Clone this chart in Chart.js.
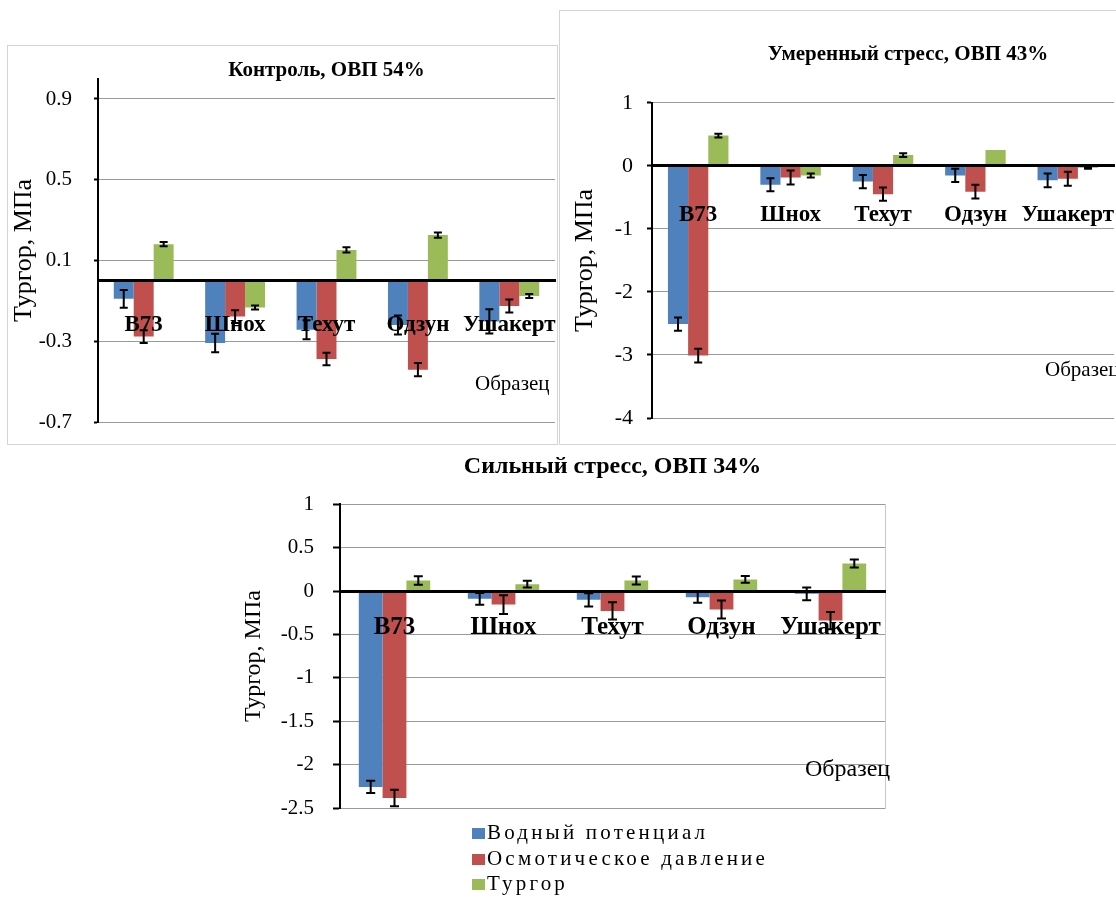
<!DOCTYPE html>
<html>
<head>
<meta charset="utf-8">
<script src="https://cdn.jsdelivr.net/npm/chart.js@4.4.1/dist/chart.umd.min.js"></script>
<style>
  body { margin: 0; overflow: hidden; background: #fff; }
  #page { position: relative; width: 1116px; height: 897px; overflow: hidden; background: #fff; }
  .frame { position: absolute; border: 1px solid #d4d4d4; box-sizing: border-box; }
  canvas { position: absolute; }
  #legend { position: absolute; left: 472px; top: 820px; font: 21px 'Liberation Serif', serif;
            letter-spacing: 3.2px; line-height: 25.5px; color: #000; white-space: nowrap; }
  #legend .box { display: inline-block; width: 13px; height: 11px; margin-right: 2px; }
</style>
</head>
<body>
<div id="page">
  <div class="frame" style="left:7px;top:45px;width:551px;height:400px"></div>
  <div class="frame" style="left:559px;top:10px;width:720px;height:435px"></div>
  <canvas id="chart1" width="548" height="398" style="left:8px;top:46px"></canvas>
  <canvas id="chart2" width="696" height="433" style="left:560px;top:11px"></canvas>
  <canvas id="chart3" width="680" height="380" style="left:230px;top:445px"></canvas>
  <div id="legend"></div>
</div>
<script>
// categories and series
const categories = ['B73', 'Шнох', 'Техут', 'Одзун', 'Ушакерт'];
const seriesNames = ['Водный потенциал', 'Осмотическое давление', 'Тургор'];
const seriesColors = ['#4F81BD', '#C0504D', '#9BBB59'];
const axisTitle = 'Тургор, МПа';
const sampleNote = 'Образец';

// Контроль, ОВП 54%
const water1 = [-0.09, -0.309, -0.243, -0.22, -0.202];
const osmotic1 = [-0.277, -0.178, -0.388, -0.441, -0.125];
const turgor1 = [0.181, -0.133, 0.152, 0.226, -0.076];
const waterErr1 = [0.044, 0.046, 0.047, 0.047, 0.06];
const osmoticErr1 = [0.032, 0.031, 0.031, 0.033, 0.032];
const turgorErr1 = [0.011, 0.01, 0.013, 0.013, 0.01];
const yTicks1 = [-0.7, -0.3, 0.1, 0.5, 0.9];

// Умеренный стресс, ОВП 43%
const water2 = [-2.51, -0.30, -0.25, -0.153, -0.23];
const osmotic2 = [-3.01, -0.185, -0.45, -0.41, -0.205];
const turgor2 = [0.48, -0.153, 0.17, 0.25, -0.03];
const waterErr2 = [0.105, 0.105, 0.105, 0.105, 0.11];
const osmoticErr2 = [0.11, 0.11, 0.105, 0.11, 0.11];
const turgorErr2 = [0.03, 0.03, 0.03, 0, 0.015];
const yTicks2 = [-4, -3, -2, -1, 0, 1];

// Сильный стресс, ОВП 34%
const water3 = [-2.257, -0.09, -0.102, -0.071, -0.033];
const osmotic3 = [-2.384, -0.156, -0.229, -0.214, -0.341];
const turgor3 = [0.121, 0.079, 0.121, 0.133, 0.318];
const waterErr3 = [0.07, 0.067, 0.077, 0.064, 0.073];
const osmoticErr3 = [0.095, 0.108, 0.1, 0.104, 0.1];
const turgorErr3 = [0.048, 0.04, 0.046, 0.039, 0.046];
const yTicks3 = [-2.5, -2, -1.5, -1, -0.5, 0, 0.5, 1];

Chart.defaults.font.family = "'Liberation Serif', 'Times New Roman', serif";
Chart.defaults.color = '#000';

// draws +/- error bars from dataset.errors through the y scale
const errorBars = {
  id: 'errorBars',
  afterDraw(chart, args, opts) {
    const ctx = chart.ctx;
    const y = chart.scales.y;
    ctx.save();
    ctx.strokeStyle = '#000';
    ctx.lineWidth = opts.width;
    chart.data.datasets.forEach((ds, i) => {
      chart.getDatasetMeta(i).data.forEach((bar, j) => {
        const err = ds.errors[j];
        if (!err) return;
        const top = y.getPixelForValue(ds.data[j] + err);
        const bottom = y.getPixelForValue(ds.data[j] - err);
        ctx.beginPath();
        ctx.moveTo(bar.x, top);
        ctx.lineTo(bar.x, bottom);
        ctx.moveTo(bar.x - opts.cap, top);
        ctx.lineTo(bar.x + opts.cap, top);
        ctx.moveTo(bar.x - opts.cap, bottom);
        ctx.lineTo(bar.x + opts.cap, bottom);
        ctx.stroke();
      });
    });
    ctx.restore();
  }
};

// the "Образец" note inside the plot
const sampleLabel = {
  id: 'sampleLabel',
  afterDraw(chart, args, opts) {
    const {ctx, chartArea, scales} = chart;
    ctx.save();
    ctx.font = opts.size + "px 'Liberation Serif', serif";
    ctx.fillStyle = '#000';
    ctx.textBaseline = 'middle';
    ctx.fillText(sampleNote, chartArea.right + opts.dx, scales.y.getPixelForValue(opts.value));
    ctx.restore();
  }
};

function makeChart(id, cfg) {
  const scales = {
    x: {
      position: {y: 0},
      grid: {display: false, drawTicks: false},
      border: {color: '#000', width: 3, z: 1},
      ticks: {font: {size: cfg.labelSize, weight: 'bold'}, padding: cfg.labelPad, z: 1,
              maxRotation: 0, autoSkip: false},
      afterFit(s) { s.paddingLeft = 0; s.paddingRight = 0; }
    },
    y: {
      min: cfg.min,
      max: cfg.max,
      afterBuildTicks(s) { s.ticks = cfg.ticks.map(v => ({value: v})); },
      afterFit(s) { s.width = cfg.axisWidth; s.paddingTop = 0; s.paddingBottom = 0; },
      grid: {color: '#9a9a9a', lineWidth: 1, tickColor: '#000', tickWidth: 2, tickLength: cfg.tickLen},
      border: {color: '#000', width: 2},
      ticks: {font: {size: cfg.tickSize}, padding: cfg.tickPad, callback: v => String(v)},
      title: {display: true, text: axisTitle, font: {size: cfg.yTitleSize},
              padding: {top: cfg.yTitlePad, bottom: 0}}
    },
    // empty right axis: plot border and/or room on the right
    y2: {
      position: 'right',
      grid: {drawOnChartArea: false, drawTicks: false},
      ticks: {display: false},
      border: {display: !!cfg.rightBorder, color: '#c8c8c8', width: 1},
      afterFit(s) { s.width = cfg.rightGap; s.paddingTop = 0; s.paddingBottom = 0; }
    }
  };
  return new Chart(document.getElementById(id), {
    type: 'bar',
    data: {
      labels: categories,
      datasets: seriesNames.map((name, i) => ({
        label: name,
        data: cfg.values[i],
        errors: cfg.errors[i],
        backgroundColor: seriesColors[i],
        borderWidth: 0,
        categoryPercentage: 0.655,
        barPercentage: 1
      }))
    },
    options: {
      responsive: false,
      animation: false,
      layout: {padding: cfg.padding},
      scales: scales,
      plugins: {
        legend: {display: false},
        tooltip: {enabled: false},
        title: {display: true, text: cfg.title, fullSize: cfg.titleFull,
                font: {size: cfg.titleSize, weight: 'bold', lineHeight: 0.8},
                padding: cfg.titlePad},
        errorBars: {width: 2, cap: cfg.cap},
        sampleLabel: cfg.note
      }
    },
    plugins: [errorBars, sampleLabel]
  });
}

makeChart('chart1', {
  title: 'Контроль, ОВП 54%', titleSize: 21, titleFull: false, titlePad: {top: 16, bottom: 0},
  values: [water1, osmotic1, turgor1], errors: [waterErr1, osmoticErr1, turgorErr1],
  min: -0.7, max: 1.0, ticks: yTicks1,
  padding: {top: 0, right: 1, bottom: 22, left: 0}, rightGap: 0,
  axisWidth: 90, tickSize: 21, tickPad: 22, tickLen: 4, yTitleSize: 26, yTitlePad: 1,
  labelSize: 23, labelPad: 31, cap: 4,
  note: {dx: -80, value: -0.515, size: 21}
});

makeChart('chart2', {
  title: 'Умеренный стресс, ОВП 43%', titleSize: 21, titleFull: true, titlePad: {top: 35, bottom: 40},
  values: [water2, osmotic2, turgor2], errors: [waterErr2, osmoticErr2, turgorErr2],
  min: -4, max: 1, ticks: yTicks2,
  padding: {top: 0, right: 0, bottom: 26, left: 0}, rightGap: 142,
  axisWidth: 92, tickSize: 22, tickPad: 14, tickLen: 5, yTitleSize: 26, yTitlePad: 10,
  labelSize: 23, labelPad: 35, cap: 4,
  note: {dx: -69, value: -3.25, size: 21}
});

makeChart('chart3', {
  title: 'Сильный стресс, ОВП 34%', titleSize: 24, titleFull: false, titlePad: {top: 12, bottom: 28},
  values: [water3, osmotic3, turgor3], errors: [waterErr3, osmoticErr3, turgorErr3],
  min: -2.5, max: 1, ticks: yTicks3,
  padding: {top: 0, right: 25, bottom: 17, left: 0}, rightGap: 0, rightBorder: true,
  axisWidth: 110, tickSize: 21, tickPad: 19, tickLen: 7, yTitleSize: 24, yTitlePad: 9,
  labelSize: 25, labelPad: 22, cap: 4.5,
  note: {dx: -80, value: -2.06, size: 24}
});

// legend under the bottom chart
const legend = document.getElementById('legend');
seriesNames.forEach((name, i) => {
  const row = document.createElement('div');
  const box = document.createElement('span');
  box.className = 'box';
  box.style.background = seriesColors[i];
  row.appendChild(box);
  row.appendChild(document.createTextNode(name));
  legend.appendChild(row);
});
</script>
</body>
</html>
